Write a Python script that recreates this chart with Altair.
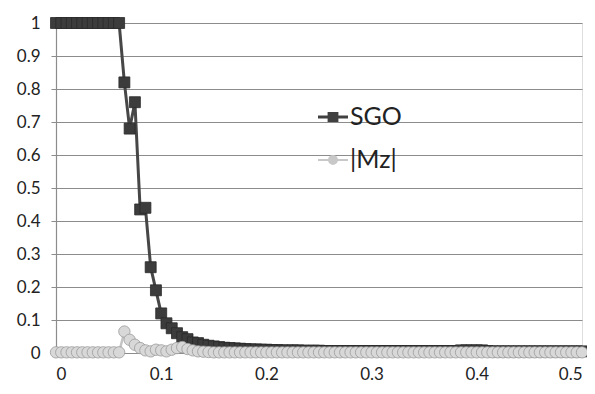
import altair as alt
import pandas as pd

x_vals = [round(i * 0.005, 3) for i in range(101)]

sgo = [1.0] * 13 + [
    0.82, 0.68, 0.76, 0.435, 0.44, 0.26, 0.19, 0.12, 0.09, 0.075,
    0.06, 0.048, 0.042, 0.032, 0.03, 0.025, 0.022, 0.02, 0.018, 0.016,
    0.015, 0.014, 0.013, 0.012, 0.011, 0.011, 0.01, 0.01, 0.009, 0.009,
    0.008, 0.008, 0.008, 0.008, 0.007, 0.007, 0.007, 0.007, 0.006, 0.006,
    0.006, 0.006, 0.006, 0.006, 0.006, 0.006, 0.006, 0.006, 0.006, 0.006,
    0.006, 0.006, 0.006, 0.006, 0.006, 0.006, 0.006, 0.006, 0.006, 0.006,
    0.006, 0.006, 0.006, 0.006, 0.008, 0.008, 0.008, 0.008, 0.008, 0.006,
    0.005, 0.005, 0.005, 0.005, 0.005, 0.005, 0.005, 0.005, 0.005, 0.005,
    0.005, 0.005, 0.005, 0.005, 0.005, 0.005, 0.005, 0.005,
]

mz = [0.002] * 13 + [
    0.065, 0.04, 0.025, 0.015, 0.008, 0.005, 0.01, 0.008, 0.005, 0.01,
    0.015, 0.018, 0.012, 0.008, 0.005, 0.004, 0.003,
] + [0.002] * 71

series_names = ["SGO", "|Mz|"]
line_colors = ["#474747", "#c4c4c4"]
point_fill = ["#3c3c3c", "#d8d8d8"]
point_stroke = ["#2a2a2a", "#9a9a9a"]

rows = []
for name, vals in zip(series_names, [sgo, mz]):
    for xv, yv in zip(x_vals, vals):
        rows.append({"x": xv, "y": yv, "series": name})
df = pd.DataFrame(rows)

FONT = "Lato"

x_enc = alt.X(
    "x:Q",
    scale=alt.Scale(domain=[0, 0.5], nice=False),
    axis=alt.Axis(
        values=[0, 0.1, 0.2, 0.3, 0.4, 0.5], format="~g", title=None, grid=False,
        ticks=False, labelPadding=13, labelFontSize=17, labelFont=FONT,
        labelColor="#222222", domainColor="#8c8c8c", domainWidth=1.2,
    ),
)
y_enc = alt.Y(
    "y:Q",
    scale=alt.Scale(domain=[0, 1], nice=False),
    axis=alt.Axis(
        values=[round(i * 0.1, 1) for i in range(11)], format="~g", title=None,
        grid=True, gridColor="#8c8c8c", gridWidth=1.2, tickSize=5,
        tickColor="#8c8c8c", labelPadding=11, labelFontSize=17, labelFont=FONT,
        labelColor="#222222", domainColor="#8c8c8c", domainWidth=1.2,
    ),
)

layers = []
for i, name in enumerate(series_names):
    sub = df[df.series == name]
    base = alt.Chart(sub)
    ln = base.mark_line(
        color=line_colors[i], strokeWidth=3 if i == 0 else 2.5
    ).encode(x=x_enc, y=y_enc)
    pt = base.mark_point(
        shape="square" if i == 0 else "circle", filled=True, opacity=1,
        fill=point_fill[i], stroke=point_stroke[i], strokeWidth=0.8,
        size=120 if i == 0 else 130,
    ).encode(x=x_enc, y=y_enc)
    layers += [ln, pt]

sgo_path = "M-1,-0.1H-0.36V-0.34H0.36V-0.1H1V0.1H0.36V0.34H-0.36V0.1H-1Z"
mz_path = ("M-1,-0.07H-0.33A0.34,0.34 0 0 1 0.33,-0.07H1V0.07H0.33"
           "A0.34,0.34 0 0 1 -0.33,0.07H-1Z")

leg = alt.Legend(
    title=None, orient="none", legendX=262, legendY=79,
    labelFontSize=25, labelFont=FONT, labelColor="#222222",
    labelOffset=2, rowPadding=15, padding=0, symbolStrokeWidth=0,
    symbolSize=900,
)

legend_layer = alt.Chart(df).transform_filter("datum.x < 0").mark_point(
    filled=True, opacity=1, size=900
).encode(
    x=x_enc, y=y_enc,
    color=alt.Color(
        "series:N",
        scale=alt.Scale(domain=series_names, range=["#404040", "#c8c8c8"]),
        legend=leg,
    ),
    shape=alt.Shape(
        "series:N",
        scale=alt.Scale(domain=series_names, range=[sgo_path, mz_path]),
        legend=leg,
    ),
)

chart = alt.layer(*layers, legend_layer).properties(
    width=526, height=330,
    autosize=alt.AutoSizeParams(type="none"),
    padding={"left": 48, "top": 15, "right": 5, "bottom": 33},
).configure_view(stroke=None).configure(background="white")

chart.save("out.html", embed_options={"renderer": "svg", "actions": False})
